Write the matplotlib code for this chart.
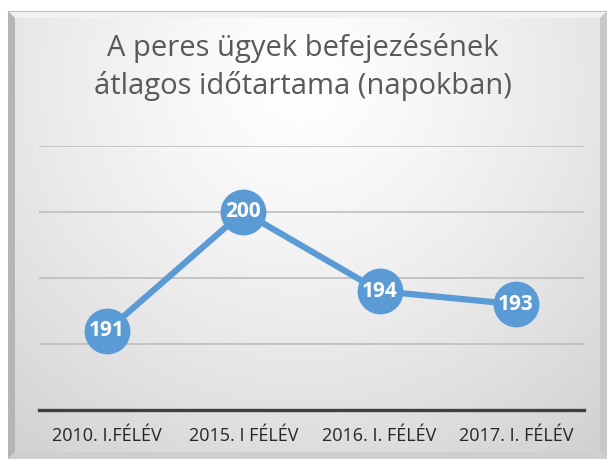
import numpy as np
import matplotlib.pyplot as plt
from matplotlib.patches import Polygon

categories = ['2010. I.FÉLÉV', '2015. I FÉLÉV', '2016. I. FÉLÉV', '2017. I. FÉLÉV']
values = [191, 200, 194, 193]
gridlines = [190, 195, 200, 205]
title = 'A peres ügyek befejezésének\nátlagos időtartama (napokban)'

W, H = 607, 459
fig = plt.figure(figsize=(W / 100, H / 100), dpi=100)
fig.patch.set_facecolor('white')

# background: frame with radial gradient and bevel edges (pixel coords)
bg = fig.add_axes([0, 0, 1, 1])
bg.set_xlim(0, W)
bg.set_ylim(H, 0)
bg.axis('off')

x0, y0, x1, y1 = 8, 11, 607, 459
yy, xx = np.mgrid[y0:y1, x0:x1]
d = np.sqrt(((xx - 300) / 430.0) ** 2 + ((yy - 80) / 430.0) ** 2)
shade = 1.0 - 0.16 * np.clip(d, 0, 1.2) ** 1.3
img = np.dstack([shade, shade, shade])
bg.imshow(img, extent=(x0, x1, y1, y0), interpolation='bilinear', zorder=0)

b = 7
bg.add_patch(Polygon([(x0, y0), (x1, y0), (x1 - b, y0 + b), (x0 + b, y0 + b)],
                     closed=True, fc='#f2f2f2', ec='none', zorder=1))
bg.add_patch(Polygon([(x0, y0), (x0 + b, y0 + b), (x0 + b, y1 - b), (x0, y1)],
                     closed=True, fc='#b5b5b5', ec='none', zorder=1))
bg.add_patch(Polygon([(x1, y0), (x1, y1), (x1 - b, y1 - b), (x1 - b, y0 + b)],
                     closed=True, fc='#c8c8c8', ec='none', zorder=1))
bg.add_patch(Polygon([(x0, y1), (x1, y1), (x1 - b, y1 - b), (x0 + b, y1 - b)],
                     closed=True, fc='#cfcfcf', ec='none', zorder=1))
bg.plot([x0, x1], [y0, y0], color='#c0c0c0', lw=0.8, zorder=2)

bg.text(303, 67, title, ha='center', va='center', fontsize=21,
        family='Open Sans', color='#595959', linespacing=1.32)

# main plot
ax = fig.add_axes([39 / W, 1 - 410 / H, 545 / W, (410 - 145.7) / H])
ax.patch.set_alpha(0)
x = np.arange(len(categories))
ax.set_xlim(-0.5, len(categories) - 0.5)
ax.set_ylim(185, 205)

for g in gridlines:
    ax.axhline(g, color='#bdbdbd', lw=1.2, zorder=1)
ax.axhline(185, color='#404040', lw=2.4, zorder=2, clip_on=False)

ax.plot(x, values, color='#5b9bd5', lw=4.5, marker='o', markersize=32,
        markerfacecolor='#5b9bd5', markeredgecolor='#5b9bd5', zorder=3,
        solid_capstyle='round', clip_on=False)
for xi, v in zip(x, values):
    ax.text(xi, v, str(v), ha='center', va='center', fontsize=15,
            fontweight='bold', family='Open Sans', color='white', zorder=4)

ax.set_xticks(x)
ax.set_xticklabels(categories, family='Open Sans', fontsize=13, color='#262626')
ax.tick_params(axis='x', length=0, pad=12)
ax.set_yticks([])
for s in ax.spines.values():
    s.set_visible(False)

fig.savefig('out.png', dpi=100)
